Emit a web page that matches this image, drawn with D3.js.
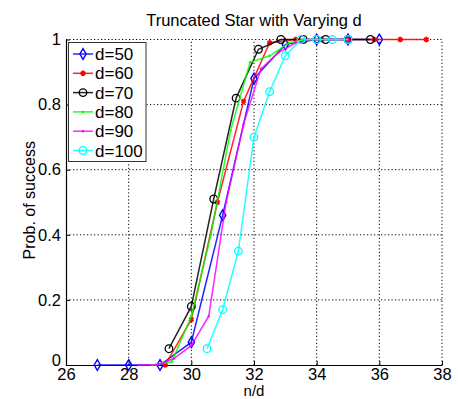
<!DOCTYPE html>
<html>
<head>
<meta charset="utf-8">
<script src="https://cdn.jsdelivr.net/npm/d3@7"></script>
<style>
  html, body { margin: 0; padding: 0; background: #fff; }
  svg { display: block; font-family: "Liberation Sans", Arial, sans-serif; }
</style>
</head>
<body>
<svg id="chart" width="458" height="399"></svg>
<script>
// ---- data ----
const xTicks = [26, 28, 30, 32, 34, 36, 38];
const yTicks = [0, 0.2, 0.4, 0.6, 0.8, 1];
const yTickLabels = ["0", "0.2", "0.4", "0.6", "0.8", "1"];

const x50 = [27, 28, 29, 30, 31, 32, 33, 34, 35, 36];
const p50 = [0, 0, 0, 0.07, 0.46, 0.88, 0.985, 1, 1, 1];

const x60 = [29.167, 30, 30.833, 31.667, 32.5, 33.333, 34.167, 35, 35.833, 36.667, 37.5];
const p60 = [0, 0.14, 0.50, 0.81, 0.99, 1, 1, 1, 1, 1, 1];

const x70 = [29.286, 30, 30.714, 31.429, 32.143, 32.857, 33.571, 34.286, 35, 35.714];
const p70 = [0.05, 0.18, 0.51, 0.82, 0.97, 1, 1, 1, 1, 1];

const x80 = [28.75, 29.375, 30, 30.625, 31.25, 31.875, 32.5, 33.125, 33.75, 34.375];
const p80 = [0, 0.01, 0.15, 0.40, 0.72, 0.93, 0.95, 0.99, 1, 1];

const x90 = [28.333, 28.889, 29.444, 30, 30.556, 31.111, 31.667, 32.222, 32.778, 33.333, 33.889, 34.444, 35];
const p90 = [0, 0, 0.02, 0.06, 0.15, 0.50, 0.74, 0.91, 0.96, 0.99, 1, 1, 1];

const x100 = [30.5, 31, 31.5, 32, 32.5, 33, 33.5, 34, 34.5, 35];
const p100 = [0.05, 0.17, 0.35, 0.70, 0.84, 0.95, 1, 1, 1, 1];

const seriesNames = ["d=50", "d=60", "d=70", "d=80", "d=90", "d=100"];
const seriesColors = ["#0000ff", "#ff0000", "#000000", "#00ff00", "#ff00ff", "#00ffff"];
const seriesMarkers = ["diamond", "star", "circle", "dot", "dot", "circle"];
const seriesX = [x50, x60, x70, x80, x90, x100];
const seriesY = [p50, p60, p70, p80, p90, p100];

// ---- layout ----
const svg = d3.select("#chart");
const x = d3.scaleLinear().domain([26, 38]).range([66, 442]);
const y = d3.scaleLinear().domain([0, 1]).range([365, 39.5]);

// grid (dotted)
const grid = svg.append("g");
grid.selectAll("line.gx").data(xTicks.slice(1)).join("line")
  .attr("x1", d => x(d)).attr("x2", d => x(d))
  .attr("y1", y(0)).attr("y2", y(1))
  .attr("stroke", "#000").attr("stroke-width", 1)
  .attr("stroke-dasharray", "1.2,2.3");
grid.selectAll("line.gy").data(yTicks.slice(1)).join("line")
  .attr("y1", d => y(d)).attr("y2", d => y(d))
  .attr("x1", x(26)).attr("x2", x(38))
  .attr("stroke", "#000").attr("stroke-width", 1)
  .attr("stroke-dasharray", "1.2,2.3");

// axes
const xAxis = d3.axisBottom(x).tickValues(xTicks).tickSizeInner(-4).tickSizeOuter(0).tickPadding(3.5);
const gx = svg.append("g").attr("transform", `translate(0,${y(0)})`).call(xAxis);
gx.select(".domain").attr("stroke", "#000").attr("stroke-width", 1.2);
gx.selectAll("text").attr("font-size", 16.5).attr("fill", "#000")
  .attr("font-family", "Liberation Sans, Arial, sans-serif");

const yAxis = d3.axisLeft(y).tickValues(yTicks).tickFormat((d, i) => yTickLabels[i])
  .tickSizeInner(-4).tickSizeOuter(0).tickPadding(5);
const gy = svg.append("g").attr("transform", `translate(${x(26)},0)`).call(yAxis);
gy.select(".domain").attr("stroke", "#000").attr("stroke-width", 1.2);
gy.selectAll("text").attr("font-size", 16.5).attr("fill", "#000")
  .attr("font-family", "Liberation Sans, Arial, sans-serif");
// lift the "0" label slightly, as in the reference
gy.selectAll(".tick").filter(d => d === 0).select("text").attr("dy", "0.05em");

// titles
svg.append("text").attr("x", (x(26) + x(38)) / 2).attr("y", 26)
  .attr("text-anchor", "middle").attr("font-size", 16.5).text("Truncated Star with Varying d");
svg.append("text").attr("x", (x(26) + x(38)) / 2).attr("y", 395.5)
  .attr("text-anchor", "middle").attr("font-size", 15).text("n/d");
svg.append("text").attr("transform", `translate(35,${(y(0) + y(1)) / 2 - 2}) rotate(-90)`)
  .attr("text-anchor", "middle").attr("font-size", 16).text("Prob. of success");

// markers
function drawMarker(g, type, color, cx, cy) {
  if (type === "circle") {
    g.append("circle").attr("cx", cx).attr("cy", cy).attr("r", 3.8)
      .attr("fill", "none").attr("stroke", color).attr("stroke-width", 1.3);
  } else if (type === "diamond") {
    g.append("path").attr("d", d3.symbol(d3.symbolDiamond, 34)())
      .attr("transform", `translate(${cx},${cy})`)
      .attr("fill", "none").attr("stroke", color).attr("stroke-width", 1.4);
  } else if (type === "star") {
    g.append("path").attr("d", d3.symbol(d3.symbolAsterisk, 20)())
      .attr("transform", `translate(${cx},${cy})`)
      .attr("fill", "none").attr("stroke", color).attr("stroke-width", 2);
  } else {
    g.append("circle").attr("cx", cx).attr("cy", cy).attr("r", 1.2).attr("fill", color);
  }
}

// series
const line = d3.line().x(d => x(d[0])).y(d => y(d[1]));
const plot = svg.append("g");
seriesNames.forEach((name, i) => {
  const pts = seriesX[i].map((v, j) => [v, seriesY[i][j]]);
  const g = plot.append("g");
  g.append("path").attr("d", line(pts)).attr("fill", "none")
    .attr("stroke", seriesColors[i]).attr("stroke-width", 1.5).attr("stroke-opacity", 0.85);
  pts.forEach(p => drawMarker(g, seriesMarkers[i], seriesColors[i], x(p[0]), y(p[1])));
});

// legend
const lg = svg.append("g");
lg.append("rect").attr("x", 68.5).attr("y", 42.5).attr("width", 77.5).attr("height", 119)
  .attr("fill", "#fff").attr("stroke", "#333").attr("stroke-width", 1);
seriesNames.forEach((name, i) => {
  const ly = 54 + i * 19.3;
  lg.append("line").attr("x1", 73).attr("x2", 93).attr("y1", ly).attr("y2", ly)
    .attr("stroke", seriesColors[i]).attr("stroke-width", 1.5).attr("stroke-opacity", 0.85);
  drawMarker(lg, seriesMarkers[i], seriesColors[i], 83, ly);
  lg.append("text").attr("x", 95).attr("y", ly + 6).attr("font-size", 17).text(name);
});
</script>
</body>
</html>
